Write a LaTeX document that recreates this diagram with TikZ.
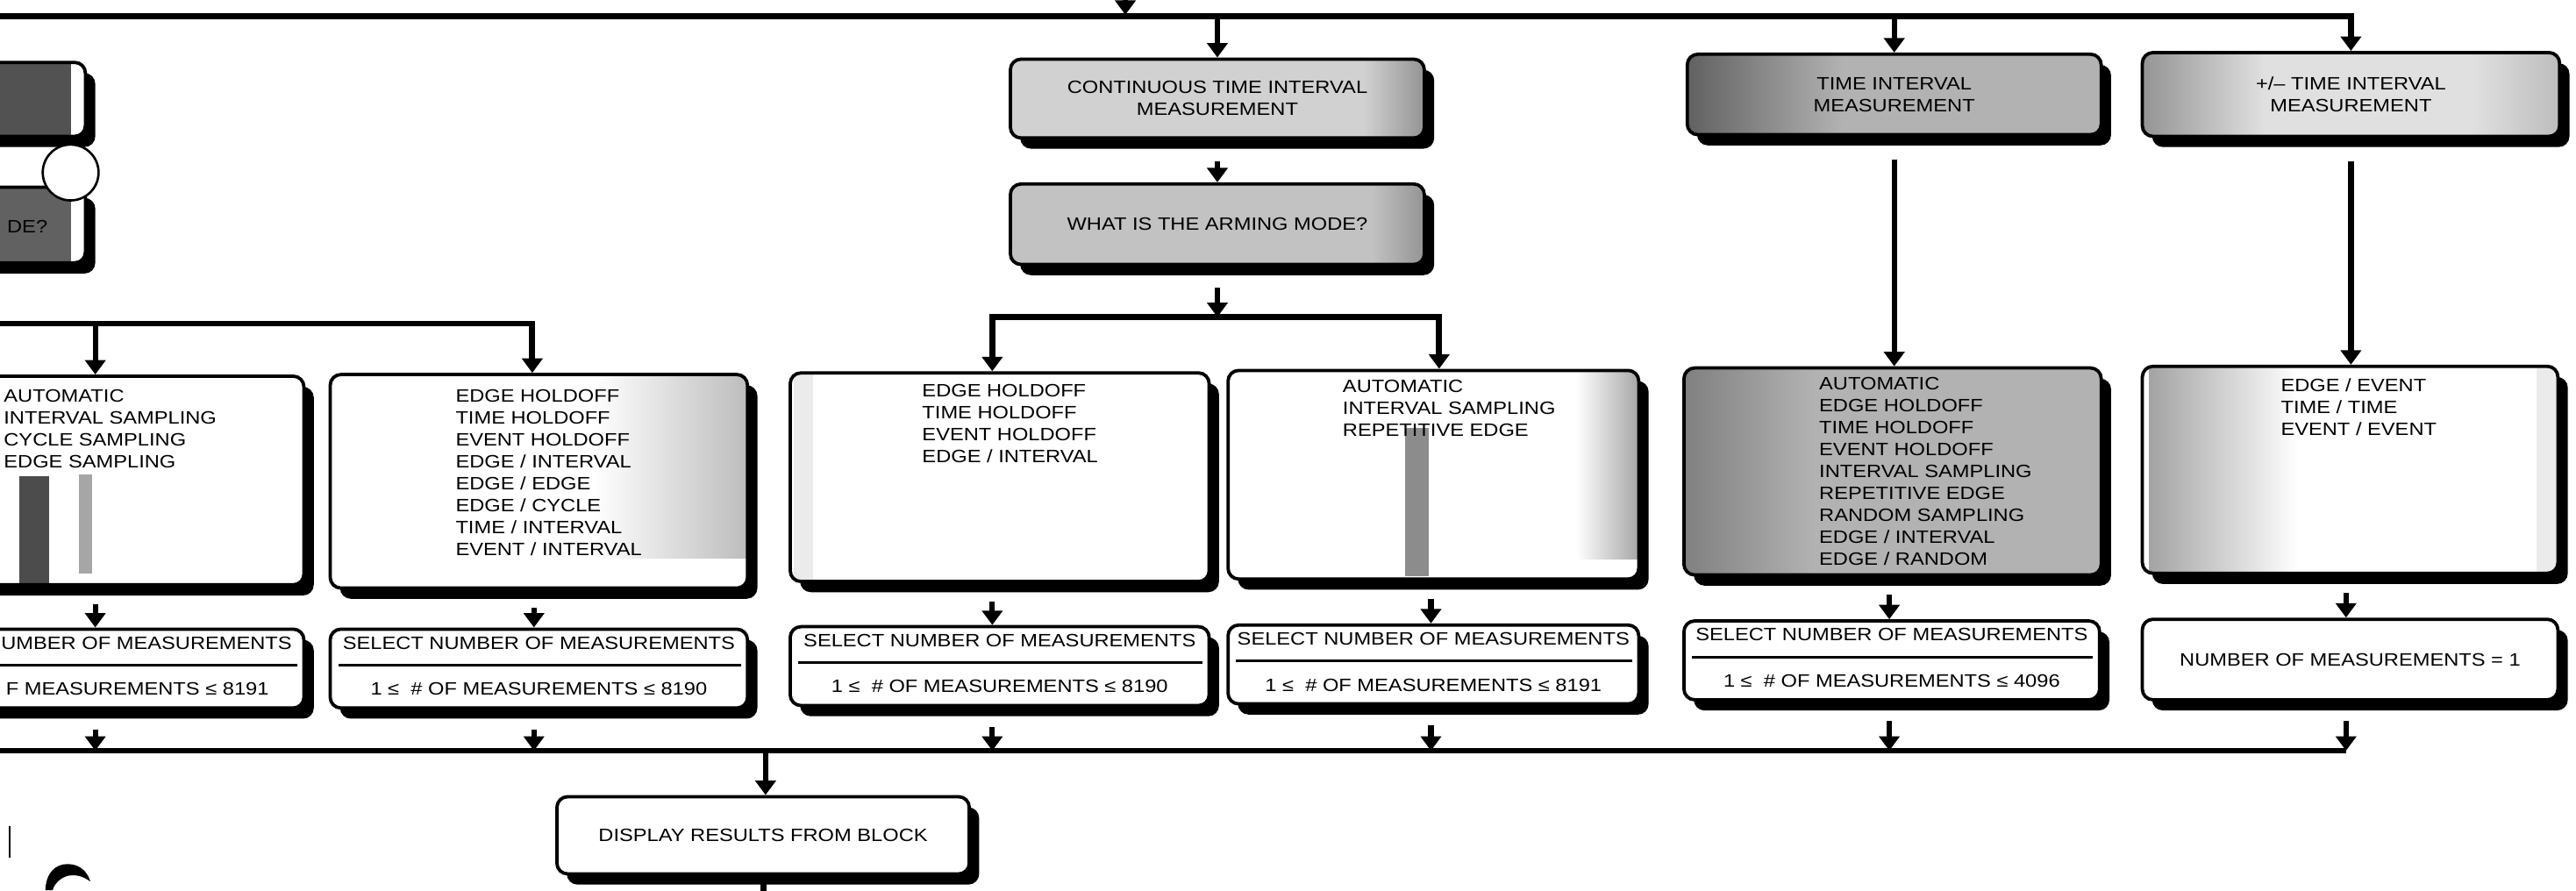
\documentclass[tikz,border=0pt]{standalone}
\usepackage{fontspec}
\setmainfont{Liberation Sans}[FakeStretch=1.16]
\usetikzlibrary{arrows.meta,calc}
\newcommand{\fsz}{\fontsize{6.2}{7.6}\selectfont}
\tikzset{
  boxd/.style={draw, line width=1.15pt, rounded corners=0.13cm, inner sep=0pt,
    align=center, font=\fsz},
  lst/.style={anchor=north west, inner sep=0pt, align=left, font=\fsz},
  txt/.style={inner sep=0pt, font=\fsz},
  arr/.style={line width=1.9pt, -{Triangle[width=7pt,length=5pt]}},
  bus/.style={line width=2.1pt},
  sepl/.style={line width=0.9pt},
}
% name, cx, cy, w, h (picture units), texture (relative to top-left corner), text
\newcommand{\bx}[7]{%
  \pgfmathsetmacro{\bxl}{#2-#4/2}\pgfmathsetmacro{\bxr}{#2+#4/2}%
  \pgfmathsetmacro{\bxt}{#3-#5/2}\pgfmathsetmacro{\bxb}{#3+#5/2}%
  \fill[black, rounded corners=0.13cm] (\bxl+6,\bxt+6.5) rectangle (\bxr+6,\bxb+6.5);
  \fill[white, rounded corners=0.13cm] (\bxl,\bxt) rectangle (\bxr,\bxb);
  \begin{scope}
    \clip[rounded corners=0.13cm] (\bxl,\bxt) rectangle (\bxr,\bxb);
    \begin{scope}[shift={(\bxl,\bxt)}]#6\end{scope}
  \end{scope}
  \node[boxd, minimum width=#4*0.02cm, minimum height=#5*0.02cm] (#1) at (#2,#3) {#7};
}
\begin{document}
\begin{tikzpicture}[x=0.02cm, y=-0.02cm]
\useasboundingbox (0,0) rectangle (1568,542);

% ---------- top-left cut boxes ----------
\bx{tla}{-75}{60.5}{254}{45}{\fill[black!68] (0,0) rectangle (245,60);}{}
\bx{tlb}{-75}{137}{254}{46}{\fill[black!62] (0,0) rectangle (245,60);}{}
\node[txt, anchor=west] (tlbt) at (4,138) {DE?};
\node[circle, draw, fill=white, line width=0.8pt, minimum size=0.68cm, inner sep=0pt] (conn) at (43,105) {};

% ---------- top boxes ----------
\bx{cont}{741}{60}{252}{48}{\fill[black!18] (0,0) rectangle (252,48);
   \shade[left color=black!18,right color=black!42] (215,0) rectangle (252,48);}
   {CONTINUOUS TIME INTERVAL\\MEASUREMENT}
\bx{arm}{741}{136.5}{252}{49}{\fill[black!24] (0,0) rectangle (252,49);
   \shade[left color=black!24,right color=black!42] (220,0) rectangle (252,49);}
   {WHAT IS THE ARMING MODE?}
\bx{ti}{1153}{57.5}{252}{49}{\shade[left color=black!62,right color=black!30] (0,0) rectangle (95,49);
   \fill[black!30] (95,0) rectangle (252,49);}
   {TIME INTERVAL\\MEASUREMENT}
\bx{pm}{1431}{57.5}{254}{51}{\shade[left color=black!42,right color=black!12] (0,0) rectangle (75,51);
   \fill[black!12] (75,0) rectangle (200,51);
   \shade[left color=black!12,right color=black!26] (200,0) rectangle (254,51);}
   {+/– TIME INTERVAL\\MEASUREMENT}

% ---------- second row ----------
\bx{l1}{58}{292.5}{254}{127}{\fill[black!70] (81,61) rectangle (99,127);
   \fill[black!35] (117,60) rectangle (125,120);}{}
\bx{l2}{328}{293}{254}{130}{\shade[left color=white,right color=black!26] (160,0) rectangle (254,112);}{}
\bx{c1}{608.5}{290.5}{255}{127}{\fill[black!8] (2,0) rectangle (14,127);}{}
\bx{c2}{872.5}{289}{250}{127}{\fill[black!45] (108,35) rectangle (122,125);
   \shade[left color=white,right color=black!35] (212,0) rectangle (250,115);}{}
\bx{r1}{1152}{287}{254}{126}{\shade[left color=black!50,right color=black!30] (0,0) rectangle (80,126);
   \fill[black!30] (80,0) rectangle (254,126);}{}
\bx{r2}{1430.5}{286}{253}{126}{\shade[left color=black!36,right color=white] (4,0) rectangle (95,126);
   \fill[black!8] (240,0) rectangle (253,126);}{}

\node[lst] (l1t) at (2,236.9) {AUTOMATIC\\INTERVAL SAMPLING\\CYCLE SAMPLING\\EDGE SAMPLING};
\node[lst] (l2t) at (277,236.6) {EDGE HOLDOFF\\TIME HOLDOFF\\EVENT HOLDOFF\\EDGE / INTERVAL\\EDGE / EDGE\\EDGE / CYCLE\\TIME / INTERVAL\\EVENT / INTERVAL};
\node[lst] (c1t) at (561,233.7) {EDGE HOLDOFF\\TIME HOLDOFF\\EVENT HOLDOFF\\EDGE / INTERVAL};
\node[lst] (c2t) at (817,231.1) {AUTOMATIC\\INTERVAL SAMPLING\\REPETITIVE EDGE};
\node[lst] (r1t) at (1107,229.1) {AUTOMATIC\\EDGE HOLDOFF\\TIME HOLDOFF\\EVENT HOLDOFF\\INTERVAL SAMPLING\\REPETITIVE EDGE\\RANDOM SAMPLING\\EDGE / INTERVAL\\EDGE / RANDOM};
\node[lst] (r2t) at (1388,230.1) {EDGE / EVENT\\TIME / TIME\\EVENT / EVENT};

% ---------- third row ----------
\bx{l1b}{58}{407}{254}{48}{}{}
\bx{l2b}{328}{407}{254}{48}{}{}
\bx{c1b}{608.5}{405.5}{255}{48}{}{}
\bx{c2b}{872.5}{404.5}{250}{48}{}{}
\bx{r1b}{1151.5}{402}{253}{48}{}{}
\bx{r2b}{1430.5}{401.5}{253}{49}{}{NUMBER OF MEASUREMENTS = 1}

\node[txt, anchor=east] (l1b1) at ($(l1b.north)+(120,9.5)$) {UMBER OF MEASUREMENTS};
\draw[sepl] ($(l1b.north west)+(6,23)$) -- ($(l1b.north east)+(-5,23)$);
\node[txt, anchor=east] (l1b2) at ($(l1b.north)+(106,37.5)$) {F MEASUREMENTS ≤ 8191};
\foreach \n/\v in {l2b/8190, c1b/8190, c2b/8191, r1b/4096} {
  \node[txt] (\n1) at ($(\n.north)+(0,9.5)$) {SELECT NUMBER OF MEASUREMENTS};
  \draw[sepl] ($(\n.north west)+(6,23)$) -- ($(\n.north east)+(-5,23)$);
  \node[txt] (\n2) at ($(\n.north)+(0,37.5)$) {1 ≤\ \ \# OF MEASUREMENTS ≤ \v};
}

% ---------- display ----------
\bx{disp}{464.5}{508.5}{251}{47}{}{DISPLAY RESULTS FROM BLOCK}

% ---------- connectors ----------
\coordinate (inT) at (685,-2);
\coordinate (inB) at (685,9);
\draw[arr] (inT) -- (inB);
\coordinate (topL) at (0,10);
\draw[arr, line width=2.1pt] (topL) -| (pm.north);
\draw[arr] (cont.north |- topL) -- (cont.north);
\draw[arr] (ti.north |- topL) -- (ti.north);

\draw[arr] ($(cont.south)+(0,13)$) -- (arm.north);
\coordinate (brC) at (741,193);
\coordinate (brA) at (604,193);
\coordinate (brB) at (876,193);
\draw[arr] ($(arm.south)+(0,13)$) -- (brC);
\draw[arr, line width=2.1pt] (brB) -- (brA) -- (brA |- c1.north);
\draw[arr, line width=2.1pt] (brA) -- (brB) -- (brB |- c2.north);

\coordinate (lbL) at (0,197);
\coordinate (lbA) at (58,197);
\coordinate (lbB) at (324,197);
\draw[arr, line width=2.1pt] (lbL) -- (lbB) -- (lbB |- l2.north);
\draw[arr] (lbA) -- (lbA |- l1.north);

\draw[arr] ($(ti.south)+(0,14)$) -- (ti.south |- r1.north);
\draw[arr] ($(pm.south)+(0,14)$) -- (pm.south |- r2.north);

\coordinate (busL) at (0,457);
\coordinate (busR) at (1428,457);
\draw[bus] (busL) -- (busR);

\foreach \a/\b/\x in {l1/l1b/58, l2/l2b/325, c1/c1b/604, c2/c2b/871, r1/r1b/1150, r2/r2b/1428} {
  \coordinate (x\a) at (\x,0);
  \draw[arr] ($(\a.south -| x\a)+(0,11)$) -- (\b.north -| x\a);
  \draw[arr] ($(\b.south -| x\a)+(0,12)$) -- (x\a |- busL);
}

\coordinate (dTop) at (466,457);
\draw[arr] (dTop) -- (dTop |- disp.north);
\coordinate (dBot) at (466,560);
\draw[bus] (disp.south) -- (disp.south |- dBot);

% ---------- marks at the lower left ----------
\draw[line width=0.6pt] (6,503) -- (6,522);
\fill (27.6,542) .. controls (28,531) and (34,526) .. (41,526)
      .. controls (48,526) and (53,530) .. (55,536.6)
      .. controls (50,533) and (46,532.5) .. (42,533)
      .. controls (37,534) and (33,538) .. (32,542) -- cycle;
\end{tikzpicture}
\end{document}
